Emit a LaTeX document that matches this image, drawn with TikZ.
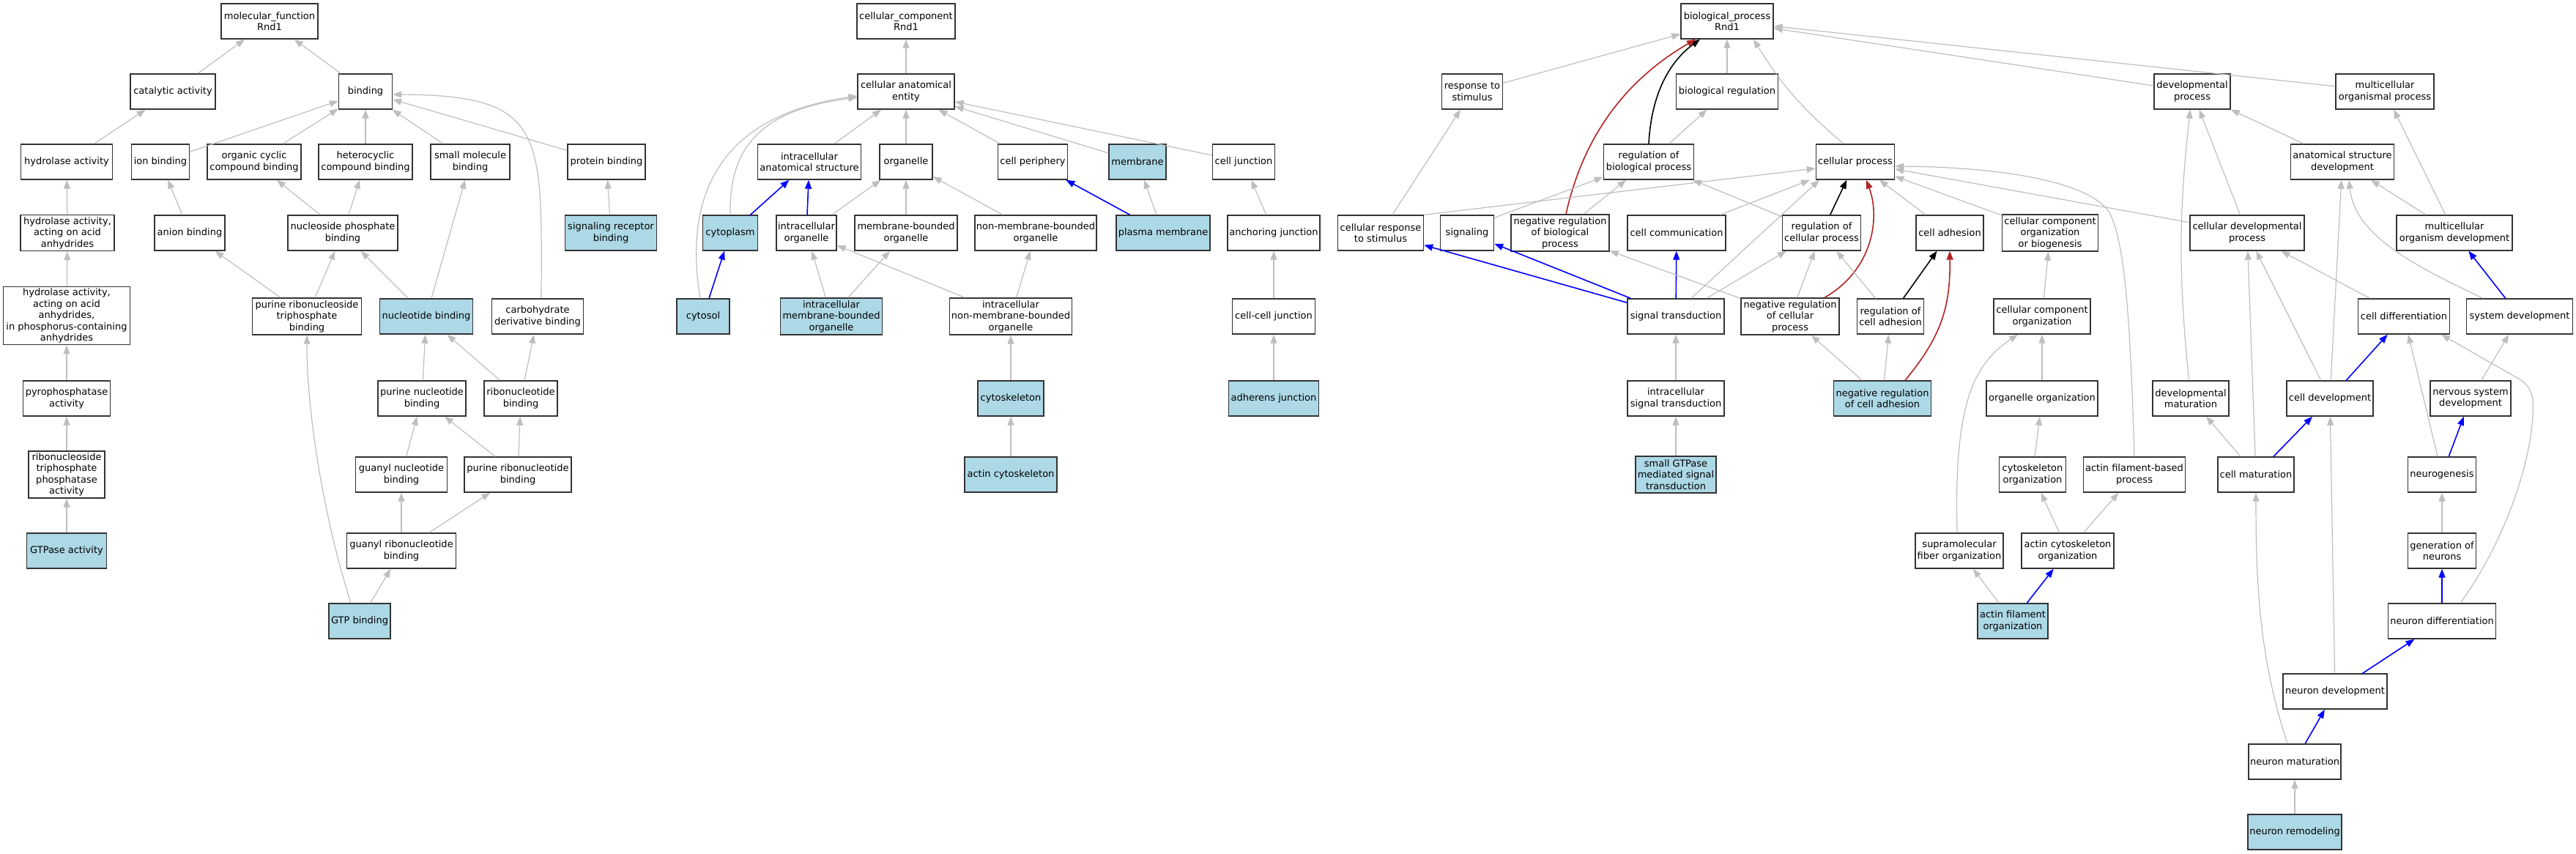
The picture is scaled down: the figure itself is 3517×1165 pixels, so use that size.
\documentclass[tikz,border=0pt]{standalone}
\usepackage{fontspec}
\setmainfont{DejaVu Sans}
\usetikzlibrary{arrows.meta}
\definecolor{edgegray}{RGB}{190,190,190}
\definecolor{lb}{RGB}{173,216,230}
\definecolor{fb}{RGB}{178,34,34}
\newcommand\gofont{\fontsize{13}{15.5}\selectfont}
\tikzset{
  box/.style={draw=black!80, line width=1.4pt, fill=white, inner sep=2pt, align=center, font=\gofont, minimum height=48pt},
  hl/.style={box, fill=lb},
  e/.style={draw=edgegray, line width=1.2pt, -{Triangle[length=12pt,width=9pt]}},
  eb/.style={e, draw=blue, line width=1.6pt},
  er/.style={e, draw=fb, line width=1.6pt},
  ek/.style={e, draw=black, line width=1.6pt}
}
\begin{document}
\begin{tikzpicture}[x=1pt,y=1pt]
\useasboundingbox (0,0) rectangle (3517,-1165);
% ---------------- molecular function ----------------
\node[box, minimum width=132pt] (mf) at (368,-29) {molecular\_function\\Rnd1};
\node[box, minimum width=116pt] (cat) at (236,-125) {catalytic activity};
\node[box, minimum width=73pt] (bind) at (499,-125) {binding};
\node[box, minimum width=125pt] (hyd) at (91,-221) {hydrolase activity};
\node[box, minimum width=79pt] (ion) at (219,-221) {ion binding};
\node[box, minimum width=128pt] (occ) at (347,-221) {organic cyclic\\compound binding};
\node[box, minimum width=128pt] (het) at (499,-221) {heterocyclic\\compound binding};
\node[box, minimum width=108pt] (smb) at (642,-221) {small molecule\\binding};
\node[box, minimum width=106pt] (prot) at (828,-221) {protein binding};
\node[box, minimum width=128pt, minimum height=49pt] (hyda) at (92,-318) {hydrolase activity,\\acting on acid\\anhydrides};
\node[box, minimum width=96pt] (anion) at (259,-318) {anion binding};
\node[box, minimum width=150pt] (nuc) at (468,-318) {nucleoside phosphate\\binding};
\node[hl, minimum width=125pt] (srb) at (834,-318) {signaling receptor\\binding};
\node[box, minimum width=173pt, minimum height=79pt] (hydp) at (91,-431) {hydrolase activity,\\acting on acid\\anhydrides,\\in phosphorus-containing\\anhydrides};
\node[box, minimum width=149pt, minimum height=50pt] (prtb) at (419,-432) {purine ribonucleoside\\triphosphate\\binding};
\node[hl, minimum width=127pt] (nb) at (582,-432) {nucleotide binding};
\node[box, minimum width=125pt] (carb) at (734,-432) {carbohydrate\\derivative binding};
\node[box, minimum width=119pt] (pyro) at (91,-544) {pyrophosphatase\\activity};
\node[box, minimum width=120pt] (pnb) at (576,-544) {purine nucleotide\\binding};
\node[box, minimum width=100pt] (rnb) at (711,-544) {ribonucleotide\\binding};
\node[box, minimum width=104pt, minimum height=64pt] (rtpa) at (91,-648) {ribonucleoside\\triphosphate\\phosphatase\\activity};
\node[box, minimum width=125pt] (gnb) at (548,-648) {guanyl nucleotide\\binding};
\node[box, minimum width=146pt] (prnb) at (707,-648) {purine ribonucleotide\\binding};
\node[hl, minimum width=109pt] (gtpase) at (91,-752) {GTPase activity};
\node[box, minimum width=149pt] (grnb) at (548,-752) {guanyl ribonucleotide\\binding};
\node[hl, minimum width=84pt] (gtpb) at (491,-848) {GTP binding};
% ---------------- cellular component ----------------
\node[box, minimum width=134pt] (cc) at (1237,-29) {cellular\_component\\Rnd1};
\node[box, minimum width=132pt] (cae) at (1237,-125) {cellular anatomical\\entity};
\node[box, minimum width=141pt] (ias) at (1105,-221) {intracellular\\anatomical structure};
\node[box, minimum width=72pt] (org) at (1237,-221) {organelle};
\node[box, minimum width=95pt] (cper) at (1410,-221) {cell periphery};
\node[hl, minimum width=78pt] (mem) at (1553,-221) {membrane};
\node[box, minimum width=85pt] (cj) at (1698,-221) {cell junction};
\node[hl, minimum width=75pt] (cyto) at (997,-318) {cytoplasm};
\node[box, minimum width=82pt] (io) at (1101,-318) {intracellular\\organelle};
\node[box, minimum width=140pt] (mbo) at (1237,-318) {membrane-bounded\\organelle};
\node[box, minimum width=165pt] (nmbo) at (1414,-318) {non-membrane-bounded\\organelle};
\node[hl, minimum width=128pt] (pm) at (1588,-318) {plasma membrane};
\node[box, minimum width=126pt] (aj) at (1739,-318) {anchoring junction};
\node[hl, minimum width=72pt] (cytosol) at (960,-432) {cytosol};
\node[hl, minimum width=139pt, minimum height=50pt] (imbo) at (1135,-432) {intracellular\\membrane-bounded\\organelle};
\node[box, minimum width=167pt, minimum height=50pt] (inmbo) at (1380,-432) {intracellular\\non-membrane-bounded\\organelle};
\node[box, minimum width=113pt] (ccj) at (1739,-432) {cell-cell junction};
\node[hl, minimum width=90pt] (csk) at (1380,-544) {cytoskeleton};
\node[hl, minimum width=123pt] (adh) at (1739,-544) {adherens junction};
\node[hl, minimum width=126pt] (acsk) at (1380,-648) {actin cytoskeleton};
% ---------------- biological process ----------------
\node[box, minimum width=126pt] (bp) at (2358,-29) {biological\_process\\Rnd1};
\node[box, minimum width=83pt] (rts) at (2010,-125) {response to\\stimulus};
\node[box, minimum width=139pt] (breg) at (2358,-125) {biological regulation};
\node[box, minimum width=104pt] (dp) at (2993,-125) {developmental\\process};
\node[box, minimum width=134pt] (mop) at (3256,-125) {multicellular\\organismal process};
\node[box, minimum width=123pt] (rbp) at (2251,-221) {regulation of\\biological process};
\node[box, minimum width=107pt] (cp) at (2533,-221) {cellular process};
\node[box, minimum width=141pt] (asd) at (3198,-221) {anatomical structure\\development};
\node[box, minimum width=117pt] (crs) at (1885,-318) {cellular response\\to stimulus};
\node[box, minimum width=73pt] (sig) at (2003,-318) {signaling};
\node[box, minimum width=134pt, minimum height=50pt] (nrbp) at (2130,-318) {negative regulation\\of biological\\process};
\node[box, minimum width=134pt] (ccom) at (2289,-318) {cell communication};
\node[box, minimum width=107pt] (rcp) at (2487,-318) {regulation of\\cellular process};
\node[box, minimum width=92pt] (cadh) at (2662,-318) {cell adhesion};
\node[box, minimum width=131pt, minimum height=50pt] (ccob) at (2799,-318) {cellular component\\organization\\or biogenesis};
\node[box, minimum width=156pt] (cdp) at (3068,-318) {cellular developmental\\process};
\node[box, minimum width=158pt] (mod) at (3351,-318) {multicellular\\organism development};
\node[box, minimum width=132pt] (st) at (2288,-432) {signal transduction};
\node[box, minimum width=134pt, minimum height=50pt] (nrcp) at (2444,-432) {negative regulation\\of cellular\\process};
\node[box, minimum width=91pt] (rca) at (2581,-432) {regulation of\\cell adhesion};
\node[box, minimum width=132pt] (cco) at (2788,-432) {cellular component\\organization};
\node[box, minimum width=125pt] (cdiff) at (3282,-432) {cell differentiation};
\node[box, minimum width=145pt] (sd) at (3440,-432) {system development};
\node[box, minimum width=132pt] (ist) at (2288,-544) {intracellular\\signal transduction};
\node[hl, minimum width=133pt] (nrca) at (2570,-544) {negative regulation\\of cell adhesion};
\node[box, minimum width=152pt] (oo) at (2788,-544) {organelle organization};
\node[box, minimum width=104pt] (dm) at (2991,-544) {developmental\\maturation};
\node[box, minimum width=118pt] (cdev) at (3181,-544) {cell development};
\node[box, minimum width=110pt] (nsd) at (3373,-544) {nervous system\\development};
\node[hl, minimum width=110pt, minimum height=50pt] (sgtp) at (2288,-648) {small GTPase\\mediated signal\\transduction};
\node[box, minimum width=91pt] (csko) at (2775,-648) {cytoskeleton\\organization};
\node[box, minimum width=139pt] (afbp) at (2914,-648) {actin filament-based\\process};
\node[box, minimum width=104pt] (cmat) at (3080,-648) {cell maturation};
\node[box, minimum width=93pt] (neurog) at (3334,-648) {neurogenesis};
\node[box, minimum width=120pt] (sfo) at (2675,-752) {supramolecular\\fiber organization};
\node[box, minimum width=126pt] (aco) at (2823,-752) {actin cytoskeleton\\organization};
\node[box, minimum width=93pt] (gen) at (3334,-752) {generation of\\neurons};
\node[hl, minimum width=96pt] (afo) at (2748,-848) {actin filament\\organization};
\node[box, minimum width=147pt] (nd) at (3334,-848) {neuron differentiation};
\node[box, minimum width=142pt] (ndev) at (3188,-944) {neuron development};
\node[box, minimum width=126pt] (nmat) at (3133,-1040) {neuron maturation};
\node[hl, minimum width=128pt] (nrem) at (3133,-1136) {neuron remodeling};
% ---------------- MF edges ----------------
\draw[e] (cat) -- (mf);
\draw[e] (bind) -- (mf);
\draw[e] (hyd) -- (cat);
\draw[e] (ion) -- (bind);
\draw[e] (occ) -- (bind);
\draw[e] (het) -- (bind);
\draw[e] (smb) -- (bind);
\draw[e] (prot) -- (bind);
\draw[e] ([xshift=5pt]carb.north) .. controls (740,-180) and (745,-130) .. ([yshift=-4pt]bind.east);
\draw[e] (hyda) -- (hyd);
\draw[e] (anion) -- (ion);
\draw[e] (nuc) -- (occ);
\draw[e] (nuc) -- (het);
\draw[e] (srb) -- (prot);
\draw[e] (hydp) -- (hyda);
\draw[e] (prtb) -- (anion);
\draw[e] (prtb) -- (nuc);
\draw[e] (nb) -- (nuc);
\draw[e] (nb) -- (smb);
\draw[e] (pyro) -- (hydp);
\draw[e] (pnb) -- (nb);
\draw[e] (rnb) -- (nb);
\draw[e] (rnb) -- (carb);
\draw[e] (rtpa) -- (pyro);
\draw[e] (gnb) -- (pnb);
\draw[e] (prnb) -- (pnb);
\draw[e] (prnb) -- (rnb);
\draw[e] (gtpase) -- (rtpa);
\draw[e] (grnb) -- (gnb);
\draw[e] (grnb) -- (prnb);
\draw[e] (gtpb) -- (grnb);
\draw[e] ([xshift=-12pt]gtpb.north) .. controls (440,-700) and (419,-560) .. (prtb.south);
% ---------------- CC edges ----------------
\draw[e] (cae) -- (cc);
\draw[e] (ias) -- (cae);
\draw[e] (org) -- (cae);
\draw[e] (cper) -- (cae);
\draw[e] (mem) -- (cae);
\draw[e] (cj) -- (cae);
\draw[e] (cyto.north) .. controls (995,-200) and (1040,-150) .. ([yshift=-8pt]cae.west);
\draw[e] ([xshift=-4pt]cytosol.north) .. controls (935,-280) and (970,-160) .. ([yshift=-6pt]cae.west);
\draw[eb] (cyto) -- (ias);
\draw[eb] (io) -- (ias);
\draw[e] (io) -- (org);
\draw[e] (mbo) -- (org);
\draw[e] (nmbo) -- (org);
\draw[eb] (pm) -- (cper);
\draw[e] (pm) -- (mem);
\draw[eb] (cytosol) -- (cyto);
\draw[e] (imbo) -- (io);
\draw[e] (imbo) -- (mbo);
\draw[e] (inmbo) -- (io);
\draw[e] (inmbo) -- (nmbo);
\draw[e] (csk) -- (inmbo);
\draw[e] (acsk) -- (csk);
\draw[e] (aj) -- (cj);
\draw[e] (ccj) -- (aj);
\draw[e] (adh) -- (ccj);
% ---------------- BP edges ----------------
\draw[e] (rts) -- (bp);
\draw[e] (breg) -- (bp);
\draw[e] (dp) -- (bp);
\draw[e] (mop) -- (bp);
\draw[ek] (rbp.north) .. controls (2255,-120) and (2285,-80) .. ([xshift=-37pt]bp.south);
\draw[er] ([xshift=8pt]nrbp.north) .. controls (2165,-170) and (2235,-100) .. ([xshift=-43pt]bp.south);
\draw[e] ([xshift=-16pt]cp.north) to[bend left=9] ([xshift=36pt]bp.south);
\draw[e] (rbp) -- (breg);
\draw[e] (crs) -- (rts);
\draw[e] (crs.north east) -- ([yshift=-9pt]cp.west);
\draw[e] ([yshift=-4pt]sig.north east) -- ([yshift=4pt]rbp.south west);
\draw[e] (nrbp) -- (rbp);
\draw[eb] (st) -- (crs);
\draw[eb] (st) -- (sig);
\draw[eb] (st) -- (ccom);
\draw[e] ([xshift=21pt]st.north) -- ([xshift=-49pt]cp.south);
\draw[e] ([xshift=42pt]st.north) -- ([xshift=6pt]rcp.south west);
\draw[e] ([xshift=-8pt]ccom.north east) -- ([xshift=-62pt]cp.south);
\draw[e] (rcp) -- (rbp);
\draw[ek] (rcp) -- (cp);
\draw[e] (cadh) -- (cp);
\draw[e] (ccob) -- (cp);
\draw[e] (cdp) -- (cp);
\draw[e] (afbp.north) .. controls (2908,-420) and (2900,-330) .. (2880,-290) .. controls (2850,-245) and (2720,-228) .. ([yshift=-6pt]cp.east);
\draw[er] ([xshift=47pt]nrcp.north) .. controls (2555,-370) and (2568,-300) .. ([xshift=15pt]cp.south);
\draw[e] (nrcp) -- (nrbp);
\draw[e] (nrcp) -- (rcp);
\draw[e] (rca) -- (rcp);
\draw[ek] (rca) -- (cadh);
\draw[e] (nrca) -- (nrcp);
\draw[e] (nrca) -- (rca);
\draw[er] ([xshift=31pt]nrca.north) .. controls (2650,-460) and (2663,-420) .. (cadh.south);
\draw[e] (ist) -- (st);
\draw[e] (sgtp) -- (ist);
\draw[e] (cco) -- (ccob);
\draw[e] (oo) -- (cco);
\draw[e] (csko) -- (oo);
\draw[e] ([xshift=-3pt]sfo.north) .. controls (2668,-560) and (2690,-500) .. ([xshift=-33pt]cco.south);
\draw[e] (aco) -- (csko);
\draw[e] (aco) -- (afbp);
\draw[e] (afo) -- (sfo);
\draw[eb] (afo) -- (aco);
\draw[e] (cdp) -- (dp);
\draw[e] (dm) to[bend left=6] (dp);
\draw[e] (asd) -- (dp);
\draw[e] (mod) -- (mop);
\draw[e] (mod) -- (asd);
\draw[e] ([xshift=-50pt]sd.north) .. controls (3290,-360) and (3215,-320) .. ([xshift=9pt]asd.south);
\draw[e] (cdev) -- (asd);
\draw[eb] (sd) -- (mod);
\draw[e] (cdiff) -- (cdp);
\draw[e] (cdev) -- (cdp);
\draw[e] (cmat) -- (cdp);
\draw[eb] (cdev) -- (cdiff);
\draw[e] (neurog) -- (cdiff);
\draw[e] ([xshift=25pt]nd.north) .. controls (3420,-740) and (3462,-620) .. (3458,-545) .. controls (3455,-528) and (3445,-520) .. (3435,-515) -- ([xshift=51pt]cdiff.south);
\draw[e] (nsd) -- (sd);
\draw[eb] (neurog) -- (nsd);
\draw[e] (gen) -- (neurog);
\draw[eb] (nd) -- (gen);
\draw[eb] (ndev) -- (nd);
\draw[e] (ndev) -- (cdev);
\draw[eb] (nmat) -- (ndev);
\draw[e] ([xshift=-10pt]nmat.north) .. controls (3085,-900) and (3080,-800) .. (cmat.south);
\draw[e] (nrem) -- (nmat);
\draw[eb] (cmat) -- (cdev);
\draw[e] (cmat) -- (dm);
\end{tikzpicture}
\end{document}
